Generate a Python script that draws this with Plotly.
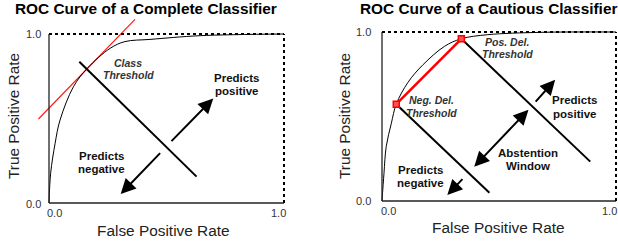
import plotly.graph_objects as go

W, H = 618, 246

# ---------------- data ----------------
titles = ["ROC Curve of a Complete Classifier", "ROC Curve of a Cautious Classifier"]
x_title = "False Positive Rate"
y_title = "True Positive Rate"
tick_vals = [0.0, 1.0]
tick_labels = ["0.0", "1.0"]

# left panel
left_fpr = [0, 0.007, 0.026, 0.047, 0.104, 0.163, 0.26, 0.323, 0.43, 0.643, 1.0]
left_tpr = [0, 0.176, 0.353, 0.491, 0.688, 0.797, 0.915, 0.955, 0.968, 0.99, 1.0]
left_tangent_x = [-0.045, 0.366]
left_tangent_y = [0.497, 1.087]
left_threshold_x = [0.129, 0.628]
left_threshold_y = [0.836, 0.156]
left_pos_arrow = [(0.515, 0.357), (0.699, 0.619)]   # tail, head
left_neg_arrow = [(0.479, 0.304), (0.305, 0.053)]
left_labels = [
    ("Class", 0.338, 0.83, "bi"), ("Threshold", 0.338, 0.755, "bi"),
    ("Predicts", 0.796, 0.74, "b"), ("positive", 0.796, 0.665, "b"),
    ("Predicts", 0.224, 0.278, "b"), ("negative", 0.224, 0.2, "b"),
]

# right panel
right_fpr = [0, 0.0085, 0.018, 0.04, 0.061, 0.111, 0.175, 0.267, 0.339, 0.452, 0.68, 1.0]
right_tpr = [0, 0.164, 0.322, 0.46, 0.573, 0.702, 0.806, 0.915, 0.96, 0.984, 0.998, 1.0]
right_del_x = [0.061, 0.339]
right_del_y = [0.573, 0.96]
right_neg_thr_x = [0.061, 0.459]
right_neg_thr_y = [0.573, 0.049]
right_pos_thr_x = [0.339, 0.89]
right_pos_thr_y = [0.96, 0.233]
right_window_arrow = [(0.388, 0.194), (0.626, 0.540)]
right_pos_arrow = [(0.651, 0.579), (0.74, 0.717)]
right_neg_arrow = [(0.35, 0.138), (0.279, 0.036)]
right_labels = [
    ("Pos. Del.", 0.535, 0.941, "bi"), ("Threshold", 0.535, 0.872, "bi"),
    ("Neg. Del.", 0.21, 0.599, "bi"), ("Threshold", 0.21, 0.52, "bi"),
    ("Predicts", 0.822, 0.595, "b"), ("positive", 0.822, 0.516, "b"),
    ("Abstention", 0.626, 0.283, "b"), ("Window", 0.626, 0.21, "b"),
    ("Predicts", 0.164, 0.184, "b"), ("negative", 0.164, 0.105, "b"),
]

FONT = "Liberation Sans, Arial, sans-serif"

# ---------------- layout helpers ----------------
def xdom(px0, ppu, r):
    return [(px0 + r[0] * ppu) / W, (px0 + r[1] * ppu) / W]

def ydom(py0, ppu, r):
    top = py0 - r[1] * ppu
    bot = py0 - r[0] * ppu
    return [(H - bot) / H, (H - top) / H]

Lxr, Lyr = [-0.07, 1.02], [-0.03, 1.12]
Rxr, Ryr = [-0.02, 1.007], [-0.03, 1.06]

fig = go.Figure()

line_black = dict(color="black", width=1)

# left traces
fig.add_trace(go.Scatter(x=left_tangent_x, y=left_tangent_y, mode="lines",
                         line=dict(color="#ff1a1a", width=1.2), xaxis="x", yaxis="y"))
fig.add_trace(go.Scatter(x=left_fpr, y=left_tpr, mode="lines", line=line_black,
                         line_shape="spline", xaxis="x", yaxis="y"))
fig.add_trace(go.Scatter(x=left_threshold_x, y=left_threshold_y, mode="lines",
                         line=dict(color="black", width=2), xaxis="x", yaxis="y"))

# right traces
fig.add_trace(go.Scatter(x=right_fpr, y=right_tpr, mode="lines", line=line_black,
                         line_shape="spline", xaxis="x2", yaxis="y2"))
fig.add_trace(go.Scatter(x=right_neg_thr_x, y=right_neg_thr_y, mode="lines",
                         line=dict(color="black", width=2), xaxis="x2", yaxis="y2"))
fig.add_trace(go.Scatter(x=right_pos_thr_x, y=right_pos_thr_y, mode="lines",
                         line=dict(color="black", width=2), xaxis="x2", yaxis="y2"))
fig.add_trace(go.Scatter(x=right_del_x, y=right_del_y, mode="lines+markers",
                         line=dict(color="#ff0000", width=2.5),
                         marker=dict(symbol="square", size=6, color="#ff5050",
                                     line=dict(color="#ff0000", width=1.5)),
                         xaxis="x2", yaxis="y2"))

shapes = []
for xr, yr in (("x", "y"), ("x2", "y2")):
    shapes += [
        dict(type="line", xref=xr, yref=yr, x0=0, x1=0, y0=0, y1=1, line=dict(color="#222", width=1.3)),
        dict(type="line", xref=xr, yref=yr, x0=0, x1=1, y0=0, y1=0, line=dict(color="#222", width=1.3)),
        dict(type="line", xref=xr, yref=yr, x0=0, x1=1, y0=1, y1=1, line=dict(color="black", width=2, dash="dot")),
        dict(type="line", xref=xr, yref=yr, x0=1, x1=1, y0=0, y1=1, line=dict(color="black", width=2, dash="dot")),
    ]

ann = []

def arrow(xr, yr, tail, head, both=False):
    ann.append(dict(xref=xr, yref=yr, axref=xr, ayref=yr, x=head[0], y=head[1],
                    ax=tail[0], ay=tail[1], text="", showarrow=True, arrowhead=2,
                    arrowsize=1.5, arrowwidth=2, arrowcolor="black",
                    arrowside="end+start" if both else "end", startarrowhead=2,
                    startarrowsize=1.5))

arrow("x", "y", *left_pos_arrow)
arrow("x", "y", *left_neg_arrow)
arrow("x2", "y2", *right_window_arrow, both=True)
arrow("x2", "y2", *right_pos_arrow)
arrow("x2", "y2", *right_neg_arrow)

def labels(xr, yr, items):
    for t, x, y, st in items:
        if st == "bi":
            txt = "<b><i>%s</i></b>" % t
            f = dict(family=FONT, size=10.5, color="#333")
        else:
            txt = "<b>%s</b>" % t
            f = dict(family=FONT, size=11.5, color="#111")
        ann.append(dict(xref=xr, yref=yr, x=x, y=y, text=txt, showarrow=False, font=f,
                        xanchor="center", yanchor="middle"))

labels("x", "y", left_labels)
labels("x2", "y2", right_labels)

# tick labels (placed in pixels as in the reference)
tick_font = dict(family=FONT, size=11, color="#333")
tick_pos = [
    # x-tick centres (px), x-tick y (px), y-tick right edge (px), y-tick y for 0 and 1 (px)
    dict(xt=[54, 278], xty=213, ytx=43, yty=[204, 34]),
    dict(xt=[388, 609], xty=211, ytx=373, yty=[201, 32]),
]
for p in tick_pos:
    for i, lab in enumerate(tick_labels):
        ann.append(dict(xref="paper", yref="paper", x=p["xt"][i] / W, y=1 - p["xty"] / H,
                        text=lab, showarrow=False, font=tick_font,
                        xanchor="center", yanchor="middle"))
        ann.append(dict(xref="paper", yref="paper", x=p["ytx"] / W, y=1 - p["yty"][i] / H,
                        text=lab, showarrow=False, font=tick_font,
                        xanchor="right", yanchor="middle"))

# titles and axis titles
title_font = dict(family=FONT, size=15.4, color="black")
axis_font = dict(family=FONT, size=15.4, color="#222")
for cx, tx, axx, axy, ayx, ayy in ((146, titles[0], 163.5, 230, 13, 116),
                                   (488.5, titles[1], 498, 227, 344, 116)):
    ann.append(dict(xref="paper", yref="paper", x=cx / W, y=1 - 8.5 / H, text="<b>%s</b>" % tx,
                    showarrow=False, font=title_font, xanchor="center", yanchor="middle"))
    ann.append(dict(xref="paper", yref="paper", x=axx / W, y=1 - axy / H, text=x_title,
                    showarrow=False, font=axis_font, xanchor="center", yanchor="middle"))
    ann.append(dict(xref="paper", yref="paper", x=ayx / W, y=1 - ayy / H, text=y_title,
                    showarrow=False, font=axis_font, xanchor="center", yanchor="middle",
                    textangle=-90))

ax_common = dict(showgrid=False, zeroline=False, showticklabels=False, showline=False, ticks="")
fig.update_layout(
    width=W, height=H, margin=dict(l=0, r=0, t=0, b=0),
    paper_bgcolor="white", plot_bgcolor="white", showlegend=False,
    xaxis=dict(domain=xdom(49, 235, Lxr), range=Lxr, anchor="y", **ax_common),
    yaxis=dict(domain=ydom(203, 169, Lyr), range=Lyr, anchor="x", **ax_common),
    xaxis2=dict(domain=xdom(382, 234, Rxr), range=Rxr, anchor="y2", **ax_common),
    yaxis2=dict(domain=ydom(201, 169, Ryr), range=Ryr, anchor="x2", **ax_common),
    shapes=shapes, annotations=ann,
)

fig.write_html("out.html", config={"displayModeBar": False},
               post_script="document.body.style.margin='0';document.body.style.overflow='hidden';")
